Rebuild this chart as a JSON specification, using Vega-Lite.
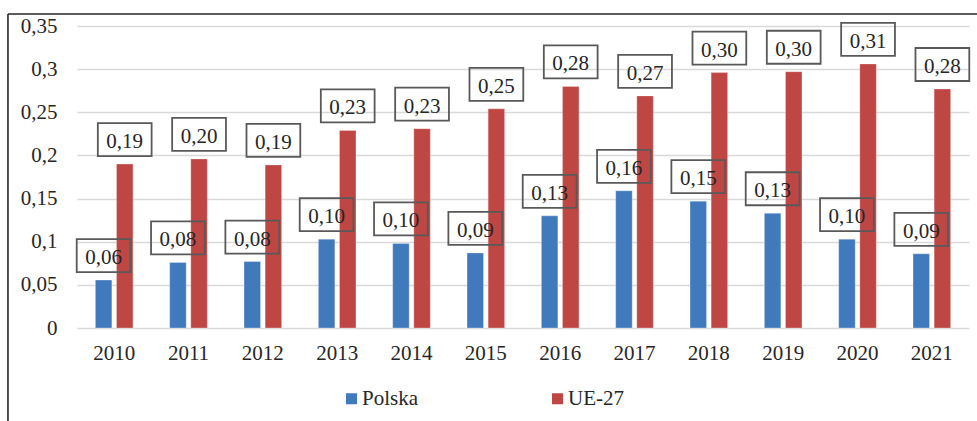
{
  "$schema": "https://vega.github.io/schema/vega-lite/v6.json",
  "width": 892,
  "height": 302,
  "autosize": "none",
  "padding": {"left": 77, "top": 26, "right": 8, "bottom": 93},
  "background": "white",
  "config": {
    "locale": {"number": {"decimal": ",", "thousands": " ", "grouping": [3], "currency": ["", " zł"]}},
    "view": {"stroke": null},
    "font": "Liberation Serif"
  },
  "layer": [
    {
      "data": {
        "values": [
          {"year": "2010", "series": "Polska", "value": 0.0556},
          {"year": "2010", "series": "UE-27", "value": 0.190},
          {"year": "2011", "series": "Polska", "value": 0.076},
          {"year": "2011", "series": "UE-27", "value": 0.196},
          {"year": "2012", "series": "Polska", "value": 0.077},
          {"year": "2012", "series": "UE-27", "value": 0.189},
          {"year": "2013", "series": "Polska", "value": 0.103},
          {"year": "2013", "series": "UE-27", "value": 0.229},
          {"year": "2014", "series": "Polska", "value": 0.098},
          {"year": "2014", "series": "UE-27", "value": 0.231},
          {"year": "2015", "series": "Polska", "value": 0.087},
          {"year": "2015", "series": "UE-27", "value": 0.254},
          {"year": "2016", "series": "Polska", "value": 0.130},
          {"year": "2016", "series": "UE-27", "value": 0.280},
          {"year": "2017", "series": "Polska", "value": 0.159},
          {"year": "2017", "series": "UE-27", "value": 0.269},
          {"year": "2018", "series": "Polska", "value": 0.147},
          {"year": "2018", "series": "UE-27", "value": 0.296},
          {"year": "2019", "series": "Polska", "value": 0.133},
          {"year": "2019", "series": "UE-27", "value": 0.297},
          {"year": "2020", "series": "Polska", "value": 0.103},
          {"year": "2020", "series": "UE-27", "value": 0.306},
          {"year": "2021", "series": "Polska", "value": 0.086},
          {"year": "2021", "series": "UE-27", "value": 0.277}
        ]
      },
      "encoding": {
        "x": {
          "field": "year", "type": "nominal",
          "scale": {"paddingInner": 0.494, "paddingOuter": 0.247},
          "axis": {"title": null, "labelAngle": 0, "ticks": false, "domain": false, "labelPadding": 14,
                   "labelFont": "Liberation Serif", "labelFontSize": 21, "labelColor": "#262626", "grid": false}
        },
        "xOffset": {"field": "series", "type": "nominal", "scale": {"paddingInner": 0.218, "paddingOuter": 0}},
        "y": {
          "field": "value", "type": "quantitative",
          "scale": {"domain": [0, 0.35], "nice": false, "zero": true},
          "axis": {"title": null, "values": [0, 0.05, 0.1, 0.15, 0.2, 0.25, 0.3, 0.35], "format": ".2~f",
                   "ticks": false, "domain": false, "labelPadding": 20, "labelFont": "Liberation Serif",
                   "labelFontSize": 21, "labelColor": "#262626", "gridColor": "#d9d9d9", "gridWidth": 1.5}
        }
      },
      "layer": [
        {
          "mark": {"type": "bar", "stroke": "white", "strokeWidth": 0.5, "strokeOpacity": 0.6},
          "encoding": {
            "color": {
              "field": "series", "type": "nominal",
              "scale": {"domain": ["Polska", "UE-27"], "range": ["#4179bd", "#be4643"]},
              "legend": {"orient": "none", "legendX": 264, "legendY": 362, "direction": "horizontal",
                         "title": null, "symbolType": "square", "symbolSize": 121, "symbolStrokeWidth": 0,
                         "labelFont": "Liberation Serif", "labelFontSize": 21, "labelColor": "#262626",
                         "labelOffset": 0, "columnPadding": 128, "padding": 0}
            }
          }
        },
        {
          "mark": {"type": "point", "shape": "M-1.63,-1L1.63,-1L1.63,1L-1.63,1Z", "size": 1089,
                   "filled": false, "stroke": "#595959", "strokeWidth": 1.8, "opacity": 1, "yOffset": -24.5}
        },
        {
          "mark": {"type": "text", "baseline": "alphabetic", "align": "center", "yOffset": -16,
                   "font": "Liberation Serif", "fontSize": 21, "color": "#262626"},
          "encoding": {"text": {"field": "value", "type": "quantitative", "format": ".2f"}}
        }
      ]
    },
    {
      "data": {
        "values": [
          {"bx": -0.0774, "bx2": 1.05, "by": 0.3639, "by2": 0.3639},
          {"bx": -0.0774, "bx2": -0.0774, "by": 0.3639, "by2": -0.3}
        ]
      },
      "mark": {"type": "rule", "color": "#262626", "strokeWidth": 1.6},
      "encoding": {
        "x": {"field": "bx", "type": "quantitative", "scale": {"domain": [0, 1], "nice": false, "zero": false}, "axis": null},
        "x2": {"field": "bx2"},
        "y": {"field": "by", "type": "quantitative", "scale": {"domain": [0, 0.35], "nice": false, "zero": true}},
        "y2": {"field": "by2"}
      }
    }
  ],
  "resolve": {"scale": {"x": "independent"}, "axis": {"x": "independent"}}
}
